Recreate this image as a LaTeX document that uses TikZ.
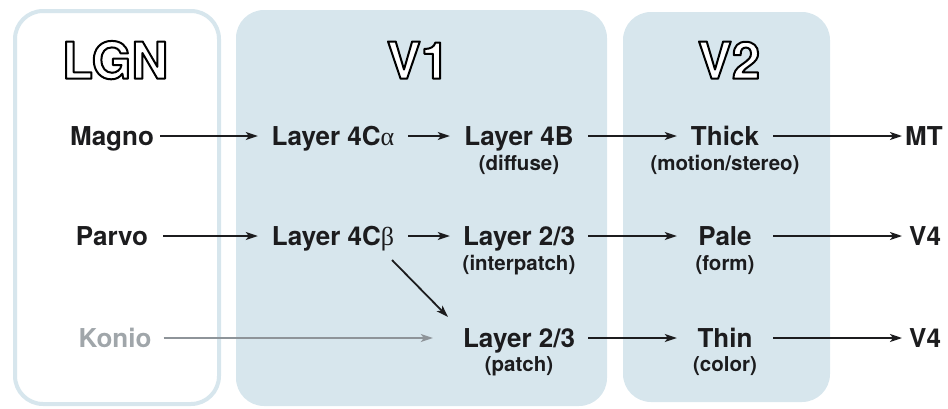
\documentclass[tikz,border=0pt]{standalone}
\usepackage{fontspec}
\setmainfont{TeX Gyre Heros}
\newfontfamily\greekf{Liberation Serif}
\usetikzlibrary{arrows.meta}
\definecolor{boxblue}{HTML}{D7E6ED}
\definecolor{ink}{HTML}{1C1C1E}
\definecolor{koniotext}{HTML}{A0A6AA}
\definecolor{konioline}{HTML}{8E9499}
\newcommand{\hollowtext}[1]{\special{pdf:code 0 G 2 Tr 2.0 w 1 j}#1\special{pdf:code 0 Tr 1 w 0 j}}
\begin{document}
\begin{tikzpicture}[x=1pt,y=-1pt,
  panel/.style={rounded corners=28pt},
  title/.style={text=white, font=\bfseries\fontsize{51}{56}\selectfont, inner sep=0pt, anchor=base},
  main/.style={text=ink, font=\bfseries\fontsize{26}{30}\selectfont, text height=18.7pt, text depth=0pt, inner xsep=0pt, inner ysep=0pt},
  sub/.style={text=ink, font=\bfseries\fontsize{20.5}{24}\selectfont, inner sep=0pt, anchor=base},
  arr/.style={draw=ink, line width=1.8pt, -{Stealth[length=12pt,width=8pt,inset=3pt]}},
  midcol/.style={minimum width=150pt},
  rightcol/.style={minimum width=138pt},
  vtwo/.style={minimum width=96pt}
]
\useasboundingbox (0,0) rectangle (948,408);
% panels
\draw[panel, fill=white, draw=boxblue, line width=4pt] (15,11) rectangle (219,404);
\fill[panel, boxblue] (236,10) rectangle (607,406);
\fill[panel, boxblue] (623,12) rectangle (830,402);
% titles
\node[title] (tlgn) at (115,78.7) {\hollowtext{LGN}};
\node[title] (tv1) at (418,78.7) {\hollowtext{V1}};
\node[title] (tv2) at (729,78.7) {\hollowtext{V2}};
% row 1
\node[main] (magno) at (112,136) {Magno};
\node[main, midcol] (l4ca) at (333,136) {Layer 4C{\greekf\mdseries α}};
\node[main, rightcol] (l4b) at (519,136) {Layer 4B};
\node[sub] (diffuse) at (519,170) {(diffuse)};
\node[main, vtwo] (thick) at (725,136) {Thick};
\node[sub] (motion) at (725,170) {(motion/stereo)};
\node[main, anchor=west] (mt) at (905,136) {MT};
% row 2
\node[main] (parvo) at (112,236) {Parvo};
\node[main, midcol] (l4cb) at (333,236) {Layer 4C{\greekf\mdseries β}};
\node[main, rightcol] (l23i) at (519,236) {Layer 2/3};
\node[sub] (interpatch) at (519,270) {(interpatch)};
\node[main, vtwo] (pale) at (725,236) {Pale};
\node[sub] (form) at (725,270) {(form)};
\node[main, anchor=west] (v4a) at (909,236) {V4};
% row 3
\node[main, text=koniotext] (konio) at (115,338) {Konio};
\node[main, rightcol] (l23p) at (519,338) {Layer 2/3};
\node[sub] (patch) at (519,371) {(patch)};
\node[main, vtwo] (thin) at (725,338) {Thin};
\node[sub] (color) at (725,371) {(color)};
\node[main, anchor=west] (v4b) at (909,338) {V4};
% connectors
\draw[arr, shorten <=6pt] (magno) -- (l4ca);
\draw[arr] (l4ca) -- (l4b);
\draw[arr] (l4b) -- (thick);
\draw[arr, shorten >=3pt] (thick) -- (mt);
\draw[arr, shorten <=15pt] (parvo) -- (l4cb);
\draw[arr] (l4cb) -- (l23i);
\draw[arr] (l23i) -- (pale);
\draw[arr, shorten >=7pt] (pale) -- (v4a);
\draw[arr, draw=konioline, line width=1.4pt, shorten <=12pt, shorten >=17pt] (konio) -- (l23p);
\draw[arr] (l23p) -- (thin);
\draw[arr, shorten >=7pt] (thin) -- (v4b);
\coordinate (dstart) at (392,260);
\coordinate (dend) at (448,317);
\draw[arr] (dstart) -- (dend);
\end{tikzpicture}
\end{document}
